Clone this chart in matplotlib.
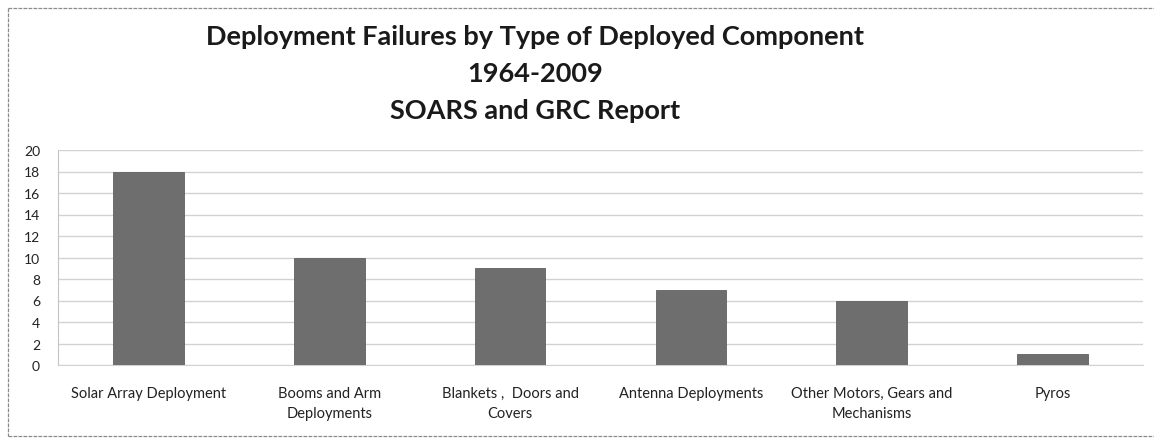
import matplotlib
matplotlib.use("Agg")
import matplotlib.pyplot as plt
from matplotlib.lines import Line2D

categories = [
    "Solar Array Deployment",
    "Booms and Arm\nDeployments",
    "Blankets ,  Doors and\nCovers",
    "Antenna Deployments",
    "Other Motors, Gears and\nMechanisms",
    "Pyros",
]
failures = [18, 10, 9, 7, 6, 1]
y_ticks = [0, 2, 4, 6, 8, 10, 12, 14, 16, 18, 20]
title_lines = [
    "Deployment Failures by Type of Deployed Component",
    "1964-2009",
    "SOARS and GRC Report",
]

W, H = 1154, 439
fig = plt.figure(figsize=(W / 100, H / 100), dpi=100)
fig.patch.set_facecolor("white")

# plot area in pixel coordinates
left, right, top, bottom = 58, 1143, 151, 366
ax = fig.add_axes([left / W, 1 - bottom / H, (right - left) / W, (bottom - top) / H])

x = range(len(categories))
ax.bar(x, failures, width=0.39, color="#6e6e6e", edgecolor="#626262", linewidth=0.6, zorder=3)
ax.set_xlim(-0.5, len(categories) - 0.5)
ax.set_ylim(0, 20)
ax.set_yticks(y_ticks)
ax.set_yticklabels([str(v) for v in y_ticks], fontsize=10, family="Lato", color="#222222")
ax.set_xticks(list(x))
ax.set_xticklabels(categories, fontsize=10.5, family="Lato", color="#222222", linespacing=1.55)
ax.tick_params(axis="both", length=0)
ax.tick_params(axis="y", pad=13)
ax.tick_params(axis="x", pad=15)
ax.yaxis.grid(True, color="#d2d2d2", linewidth=1.0, zorder=0)
for side in ("top", "right"):
    ax.spines[side].set_visible(False)
ax.spines["left"].set_color("#c4c4c4")
ax.spines["bottom"].set_color("#d2d2d2")

# chart title
for txt, yc in zip(title_lines, [37, 74, 111]):
    fig.text(535 / W, 1 - yc / H, txt, ha="center", va="center", fontsize=19.5,
             fontweight="bold", family="Lato", color="#1a1a1a")

# chart frame
frame_kw = dict(color="#8a8a8a", linewidth=0.9, linestyle=(0, (3, 1)), transform=fig.transFigure)
fig.add_artist(Line2D([8 / W, 1], [1 - 9 / H, 1 - 9 / H], **frame_kw))
fig.add_artist(Line2D([8 / W, 8 / W], [1 - 9 / H, 1 - 437 / H], **frame_kw))
fig.add_artist(Line2D([8 / W, 1], [1 - 437 / H, 1 - 437 / H], **frame_kw))

fig.savefig("out.png", dpi=100)
